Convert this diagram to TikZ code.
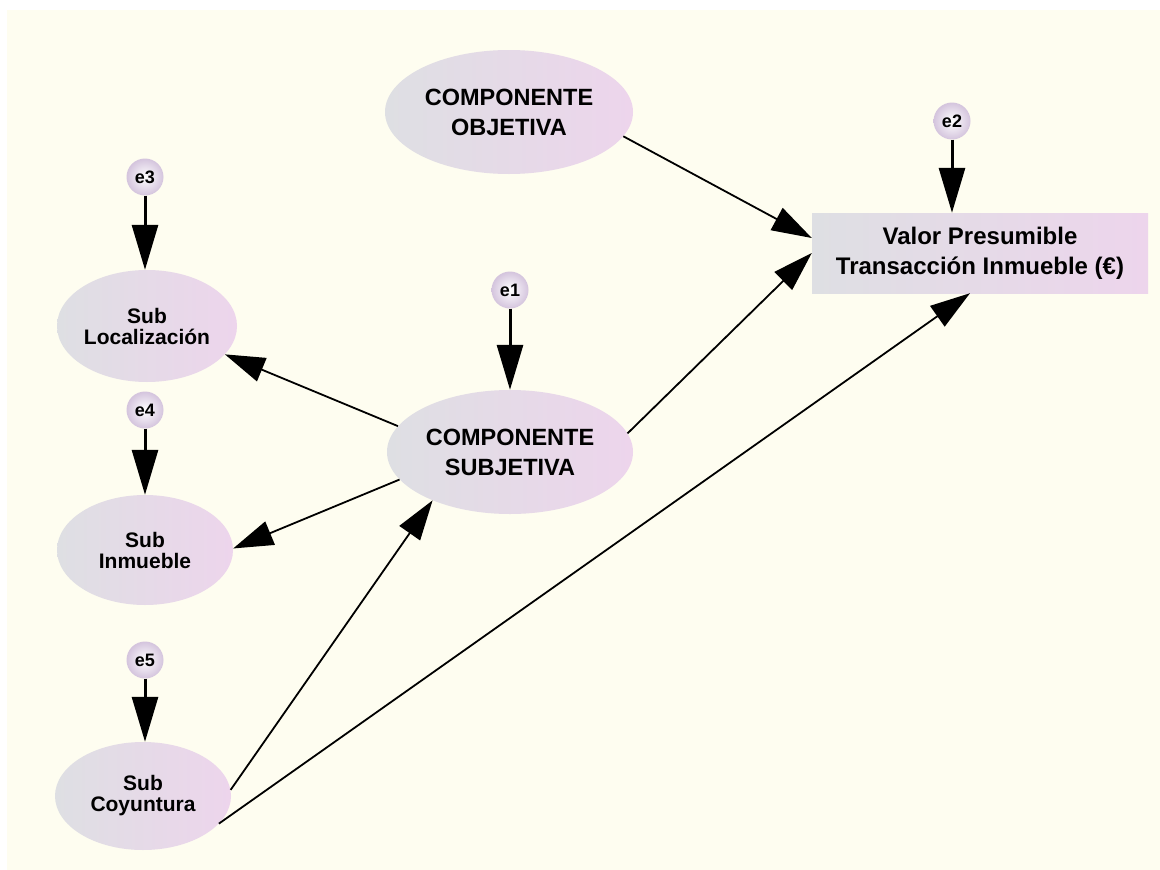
\documentclass[tikz,border=0pt]{standalone}
\usepackage{fontspec}
\setmainfont{Liberation Sans}
\usetikzlibrary{shapes.geometric,arrows.meta,calc}
\definecolor{paper}{HTML}{FEFDF0}
\definecolor{shadeleft}{HTML}{DEDFE3}
\definecolor{shaderight}{HTML}{EDD5EC}
\definecolor{errouter}{HTML}{D4C4DD}
\begin{document}
\begin{tikzpicture}[x=1pt,y=-1pt,
  latent/.style={ellipse, inner sep=0pt, align=center,
    left color=shadeleft, right color=shaderight,
    font=\bfseries\fontsize{23.5}{30}\selectfont},
  subvar/.style={ellipse, inner sep=0pt, align=center,
    left color=shadeleft, right color=shaderight,
    font=\bfseries\fontsize{21}{21}\selectfont},
  observed/.style={rectangle, inner sep=0pt, align=center,
    left color=shadeleft, right color=shaderight,
    font=\bfseries\fontsize{24}{30}\selectfont},
  errnode/.style={circle, minimum size=37pt, inner sep=0pt,
    inner color=white, outer color=errouter,
    font=\bfseries\fontsize{18}{18}\selectfont},
  path/.style={line width=1.8pt, -{Triangle[length=40pt,width=25pt]}},
  errpath/.style={line width=3pt, -{Triangle[length=45pt,width=26pt]}}
]
% canvas
\useasboundingbox (0,0) rectangle (1160,870);
\fill[white] (0,0) rectangle (1160,870);
\fill[paper] (7,10) rectangle (1160,870);

% latent components
\node[latent, minimum width=248pt, minimum height=124pt] (obj) at (509,112) {COMPONENTE\\OBJETIVA};
\node[latent, minimum width=246pt, minimum height=124pt] (subj) at (510,452) {COMPONENTE\\SUBJETIVA};

% sub-indicators
\node[subvar, minimum width=180pt, minimum height=112pt] (loc) at (147,326) {Sub\\Localización};
\node[subvar, minimum width=176pt, minimum height=110pt] (inm) at (145,550) {Sub\\Inmueble};
\node[subvar, minimum width=176pt, minimum height=108pt] (coy) at (143,796) {Sub\\Coyuntura};

% observed outcome
\node[observed, minimum width=336pt, minimum height=80pt] (val) at (980,253) {Valor Presumible\\Transacción Inmueble (€)};

% error terms
\node[errnode] (e1) at (510,290) {e1};
\node[errnode] (e2) at (952,121) {e2};
\node[errnode] (e3) at (145,177) {e3};
\node[errnode] (e4) at (145,410) {e4};
\node[errnode] (e5) at (145,660) {e5};

% error paths
\draw[errpath] (e1.south) -- (e1.south |- subj.north);
\draw[errpath] (e2.south) -- (e2.south |- val.north);
\draw[errpath] (e3.south) -- (e3.south |- loc.north);
\draw[errpath] (e4.south) -- (e4.south |- inm.north);
\draw[errpath] (e5.south) -- (e5.south |- coy.north);

% structural paths
\draw[path] (obj.-12) -- ([yshift=15pt]val.west);
\draw[path] (subj.9) -- (val.west);
\draw[path] (coy.-20) -- ([xshift=-10pt]val.south);
\draw[path] (subj.167) -- (loc.-20);
\draw[path] (subj.194) -- (inm.1);
\draw[path] (coy.4) -- (subj.212);
\end{tikzpicture}
\end{document}
